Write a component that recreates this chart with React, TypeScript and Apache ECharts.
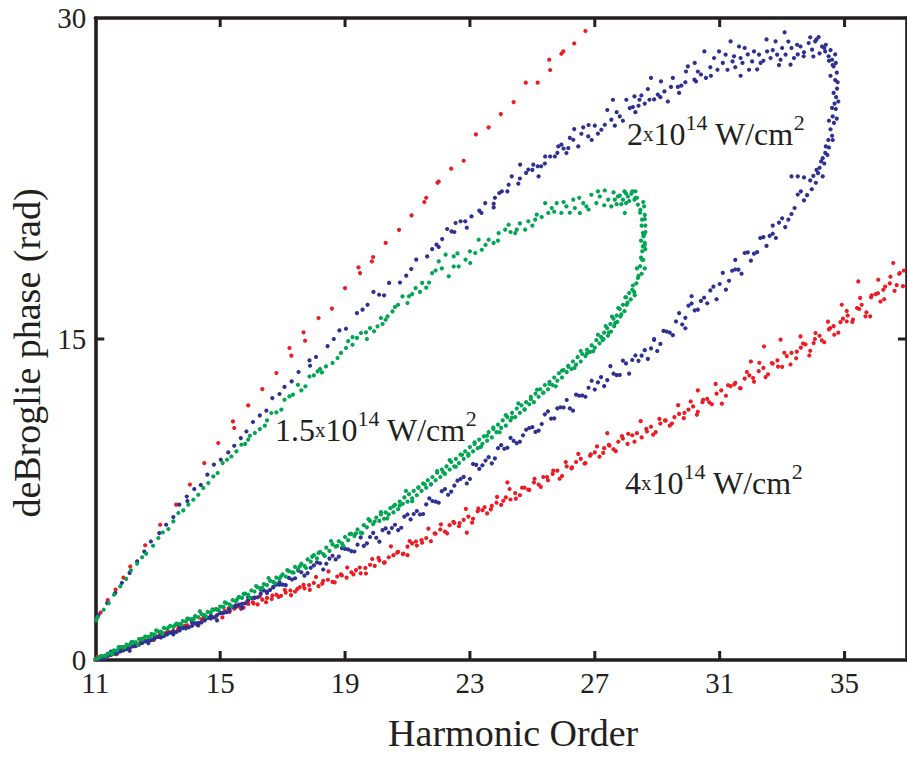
import React, { useEffect, useRef } from "react";
import * as echarts from "echarts";

const FONT = "'Liberation Serif', 'Times New Roman', Times, serif";
const INK = "#231f20";

const xTicks = [11, 15, 19, 23, 27, 31, 35];
const yTicks = [0, 15, 30];

const colors = { red: "#ed1c24", blue: "#2e3192", green: "#00a651" };

const redUpper: number[][] = [
  [11.05,1.95],[11.17,2.22],[11.4,2.8],[11.65,3.29],[11.9,3.85],[12.12,4.37],[12.6,5.36],[13.08,6.32],[13.59,7.26],[14.03,8.2],
  [14.49,9.2],[14.94,10.14],[15.41,11.15],[15.45,10.84],[15.9,11.9],[16.35,12.66],[16.8,13.41],[17.22,14.58],[17.28,14.22],[17.67,15.31],
  [17.72,14.92],[18.15,15.98],[18.58,16.42],[19.0,17.38],[19.43,18.35],[19.48,18.08],[19.86,18.63],[19.9,18.83],[20.3,19.49],[20.73,20.1],
  [21.13,20.78],[21.54,21.4],[21.6,21.6],[21.96,22.3],[22.0,22.36],[22.4,22.96],[22.8,23.33],[23.19,24.56],[23.6,24.89],[23.99,25.51],
  [24.4,26.07],[24.79,26.98],[25.17,26.98],[25.57,27.57],[25.54,28.05],[25.93,28.33],[25.99,28.44],[26.34,28.81],[26.7,29.39]
];

const redLower: number[][] = [
  [11.0,0.0],[11.1,0.05],[11.2,0.1],[11.3,0.15],[11.4,0.2],[11.5,0.25],[11.6,0.32],[11.7,0.38],[11.8,0.45],[11.9,0.55],
  [12.0,0.6],[12.15,0.62],[12.3,0.75],[12.45,0.8],[12.6,0.92],[12.75,0.95],[12.9,1.1],[13.05,1.08],[13.2,1.25],[13.35,1.3],
  [13.5,1.38],[13.65,1.45],[13.8,1.55],[13.95,1.62],[14.1,1.75],[14.25,1.7],[14.4,1.9],[14.55,1.95],[14.7,2.05],[14.85,2.0],
  [15.0,2.2],[15.15,2.3],[15.3,2.25],[15.45,2.4],[15.6,2.5],[15.75,2.45],[15.9,2.62],[16.05,2.7],[16.2,2.6],[16.35,2.82],
  [16.5,2.9],[16.65,2.85],[16.8,3.05],[16.95,3.0],[17.1,3.15],[17.25,3.25],[17.4,3.2],[17.55,3.4],[17.7,3.35],[17.85,3.5],
  [18.0,3.6],[18.15,3.45],[18.3,3.7],[18.45,3.75],[18.6,3.65],[18.75,3.9],[18.9,3.95],[19.05,3.85],[19.2,4.1],[19.35,4.2],
  [19.5,4.05],[19.65,4.3],[19.8,4.45],[19.95,4.4],[20.1,4.65],[20.25,4.55],[20.4,4.8],[20.55,4.9],[20.7,5.05],[20.85,4.95],
  [21.0,5.3],[21.15,5.45],[21.3,5.35],[21.45,5.6],[21.6,5.7],[21.75,5.55],[21.9,5.9],[22.05,6.1],[22.2,6.0],[22.35,6.3],
  [22.5,6.4],[22.65,6.25],[22.8,6.55],[22.95,6.7],[23.1,6.6],[23.25,6.95],[23.4,7.0],[23.55,6.85],[23.7,7.2],[23.85,7.35],
  [24.0,7.25],[24.15,7.6],[24.3,7.5],[24.45,7.8],[24.6,7.7],[24.75,8.05],[24.9,7.95],[25.05,8.3],[25.2,8.2],[25.35,8.55],
  [25.5,8.4],[25.65,8.7],[25.8,8.85],[25.95,8.6],[26.1,9.05],[26.25,8.95],[26.4,9.25],[26.55,9.4],[26.7,9.2],[26.85,9.55],
  [27.0,9.7],[27.15,9.5],[27.3,9.9],[27.45,10.05],[27.6,9.85],[27.75,10.2],[27.9,10.35],[28.05,10.1],[28.2,10.5],[28.35,10.6],
  [28.5,10.4],[28.65,10.8],[28.8,10.9],[28.95,10.65],[29.1,11.05],[29.25,11.2],[29.4,10.95],[29.55,11.35],[29.7,11.5],[29.85,11.3],
  [30.0,11.7],[30.15,11.85],[30.3,11.6],[30.45,12.05],[30.6,12.2],[30.75,11.95],[30.9,12.45],[31.05,12.6],[31.2,12.35],[31.35,12.8],
  [31.5,12.95],[31.65,12.7],[31.8,13.15],[31.95,13.3],[32.1,13.0],[32.25,13.5],[32.4,13.65],[32.55,13.35],[32.7,13.85],[32.85,14.0],
  [33.0,13.7],[33.15,14.2],[33.3,14.35],[33.45,14.1],[33.6,14.6],[33.75,14.75],[33.9,14.45],[34.05,15.0],[34.2,15.15],[34.35,14.85],
  [34.5,15.45],[34.65,15.6],[34.8,15.3],[34.95,15.95],[35.1,16.1],[35.25,15.8],[35.4,16.45],[35.55,16.6],[35.7,16.25],[35.85,16.95],
  [36.0,17.1],[36.15,16.75],[36.3,17.45],[36.45,17.6],[36.6,17.25],[36.75,18.05],[36.9,18.2]
];

const redLowerExtra: number[][] = [
  [11.07,0.15],[11.27,0.1],[11.47,0.3],[11.67,0.27],[11.87,0.6],[12.07,0.68],[12.27,0.65],[12.47,0.98],[12.67,0.91],[12.87,0.94],
  [13.07,1.2],[13.27,1.26],[13.47,1.3],[13.67,1.62],[13.87,1.6],[14.07,1.89],[14.27,1.64],[14.47,1.99],[14.67,1.97],[14.87,2.38],
  [15.07,1.99],[15.27,2.41],[15.47,2.45],[15.67,2.39],[15.87,2.75],[16.07,2.64],[16.27,2.98],[16.47,2.7],[16.67,3.01],[16.87,2.95],
  [17.07,3.27],[17.27,3.03],[17.47,3.32],[17.67,3.51],[17.87,3.28],[18.07,3.88],[18.27,3.57],[18.47,4.14],[18.67,3.63],[18.87,4.0],
  [19.07,4.32],[19.27,4.0],[19.47,4.32],[19.67,4.04],[19.87,4.72],[20.07,4.77],[20.27,4.56],[20.47,5.31],[20.67,5.02],[20.87,4.97],
  [21.07,5.56],[21.27,5.54],[21.47,5.48],[21.67,6.14],[21.87,5.92],[22.07,6.34],[22.27,5.92],[22.47,6.46],[22.67,6.4],[22.87,7.06],
  [23.07,6.42],[23.27,7.08],[23.47,7.14],[23.67,7.04],[23.87,7.62],[24.07,7.44],[24.27,7.99],[24.47,7.54],[24.67,8.05],[24.87,7.96],
  [25.07,8.47],[25.27,8.09],[25.47,8.55],[25.67,8.85],[25.87,8.47],[26.07,9.25],[26.27,9.0],[26.47,9.63],[26.67,9.18],[26.87,9.61],
  [27.07,9.98],[27.27,9.68],[27.47,10.02],[27.67,9.76],[27.87,10.46],[28.07,10.57],[28.27,10.2],[28.47,11.16],[28.67,10.68],[28.87,10.53],
  [29.07,11.27],[29.27,11.19],[29.47,11.05],[29.67,11.91],[29.87,11.55],[30.07,12.08],[30.27,11.46],[30.47,12.16],[30.67,12.04],[30.87,12.9],
  [31.07,11.98],[31.27,12.84],[31.47,12.88],[31.67,12.7],[31.87,13.46],[32.07,13.18],[32.27,13.89],[32.47,13.22],[32.67,13.88],[32.87,13.71],
  [33.07,14.36],[33.27,13.81],[33.47,14.41],[33.67,14.79],[33.87,14.23],[34.07,15.28],[34.27,14.94],[34.47,15.81],[34.67,15.2],[34.87,15.79],
  [35.07,16.31],[35.27,15.91],[35.47,16.4],[35.67,16.06],[35.87,17.04],[36.07,17.14],[36.27,16.86],[36.47,17.91],[36.67,17.52],[36.87,17.47],
  [35.44,17.69],[36.08,17.77],[36.56,18.55],[36.77,18.08],[36.24,17.3],[35.5,16.92],[34.91,16.6],[35.82,16.06],[35.07,15.82],[34.54,15.51],
  [34.01,14.81],[33.59,15.12],[32.95,14.97],[32.42,14.65],[32.0,13.95],[22.9,5.95],[24.2,8.3],[27.4,10.6],[30.3,12.6],[21.0,4.9]
];

const blueUpper: number[][] = [
  [11.1,2.1],[11.38,2.66],[11.64,3.13],[11.85,3.6],[12.1,4.07],[12.34,4.61],[12.57,5.07],[12.78,5.54],[13.05,5.93],[13.27,6.32],
  [13.5,6.68],[13.69,7.26],[13.93,7.64],[13.95,7.43],[14.17,7.99],[14.38,8.18],[14.59,8.66],[14.8,9.13],[15.02,9.36],[15.26,9.7],
  [15.45,10.01],[15.66,10.37],[15.84,10.68],[16.05,11.12],[16.27,11.43],[16.48,11.65],[16.67,12.24],[16.9,12.43],[17.06,12.76],[17.29,13.02],
  [17.51,13.46],[17.86,14.0],[17.88,13.75],[18.07,14.16],[18.44,14.67],[18.64,15.0],[18.82,15.4],[19.03,15.48],[19.38,16.21],[19.56,16.37],
  [19.72,16.6],[19.91,17.2],[20.09,17.07],[20.25,17.04],[20.41,17.62],[20.76,17.64],[20.96,17.96],[21.12,18.27],[21.28,18.71],[21.63,18.86],
  [21.79,19.2],[21.93,19.41],[22.11,19.67],[22.27,20.14],[22.41,20.03],[22.54,20.42],[22.7,20.5],[22.85,20.5],[23.05,20.73],[23.37,20.89],
  [23.49,21.35],[23.76,21.32],[23.76,21.15],[23.94,21.82],[24.02,21.9],[24.24,22.21],[24.34,22.6],[24.55,22.26],[24.61,23.15],[24.8,22.76],
  [24.87,22.92],[25.03,23.15],[25.17,23.07],[25.28,23.07],[25.41,23.53],[25.57,23.53],[25.72,23.53],[25.83,24.0],[25.93,24.08],[26.09,23.69],
  [26.15,23.92],[26.31,24.31],[26.47,24.0],[26.34,24.81],[26.57,24.59],[26.63,24.89],[26.79,24.47],[27.0,24.97],[27.21,24.78],[27.32,25.01],
  [27.53,25.25],[27.64,24.97],[27.8,25.4],[27.58,26.18],[28.01,26.18],[28.12,25.79],[28.22,25.84],[28.27,26.34],[28.43,26.18],[28.49,26.38],
  [28.7,26.68],[28.75,26.18],[28.8,27.2],[29.02,26.42],[29.12,27.04],[29.23,26.57],[29.34,26.1],[29.44,26.78],[29.66,26.78],[29.77,26.84],
  [29.92,27.5],[29.98,27.74],[30.19,27.12],[30.24,27.04],[30.4,27.36],[30.51,28.44],[30.56,27.2],[30.72,27.3],[30.82,28.13],[30.93,27.58],
  [30.98,28.44],[31.19,28.29],[31.25,27.58],[31.35,28.91],[31.41,27.97],[31.46,28.21],[31.62,28.67],[31.67,28.13],[31.73,27.9],[31.67,27.3],
  [31.94,27.58],[32.04,27.97],[32.1,28.44],[32.26,28.29],[32.31,27.9],[32.5,29.0],[32.52,28.44],[32.63,28.13],[32.79,28.91],[32.84,28.29],
  [32.95,28.05],[33.08,29.33],[33.11,28.29],[33.27,27.82],[33.38,28.13],[33.48,28.75],[33.59,28.67],[33.69,28.21],[33.85,28.83],[33.96,28.52],
  [34.06,28.91],[34.17,29.11],[34.28,28.67],[34.38,28.44],[34.49,28.21],[34.6,28.05],[34.65,27.74],[34.4,28.75],[34.55,28.5],[34.2,28.35]
];

const blueUpperExtra: number[][] = [
  [34.55,27.3],[34.62,27.8],[34.5,28.0],[34.35,28.6],[34.1,29.0],[33.9,29.1],[33.7,28.4],[33.3,28.6],[33.0,28.6],[32.7,28.5],
  [32.4,28.0],[32.2,27.6],[31.9,28.3],[31.5,27.7],[31.1,27.9],[30.7,27.7],[30.3,27.5],[29.9,27.0],[29.5,27.2],[29.1,26.3],
  [28.6,26.0],[28.9,26.2],[28.3,25.6],[27.9,25.2],[27.4,25.7],[27.1,24.6],[26.8,25.0],[26.2,24.4],[25.8,23.7],[25.4,23.2],
  [25.0,22.9],[24.6,22.5],[24.2,21.9],[23.8,21.6],[23.3,21.0],[22.9,20.2],[22.5,20.0],[22.0,19.3],[33.5,28.3],[32.9,27.8],
  [34.0,28.2],[33.2,28.9],[31.8,28.6],[30.2,27.9],[29.7,26.5],[28.4,25.9],[27.7,25.6],[26.9,24.3],[26.0,23.9],[25.2,22.6]
];

const blueLower: number[][] = [
  [34.7,28.3],[34.72,27.9],[34.75,27.45],[34.7,27.1],[34.76,26.7],[34.73,26.3],[34.68,26.0],[34.72,25.75],[34.62,25.4],[34.66,25.1],
  [34.55,24.8],[34.6,24.5],[34.48,24.3],[34.5,23.95],[34.38,23.7],[34.3,23.45],[34.35,23.2],[34.2,23.0],[34.15,22.75],[34.08,22.3],
  [34.0,22.62],[33.8,21.72],[33.6,21.9],[33.4,21.12],[33.2,20.58],[33.0,20.64],[32.8,19.72],[32.6,19.82],[32.4,19.76],[32.2,19.06],
  [32.0,18.66],[31.8,19.02],[31.6,18.24],[31.4,18.19],[31.2,17.31],[31.0,17.57],[30.8,17.45],[30.6,16.67],[30.4,16.78],[30.2,16.34],
  [30.0,16.56],[29.8,15.68],[29.6,15.82],[29.4,15.3],[29.2,15.38],[29.0,14.44],[28.8,14.56],[28.6,14.48],[28.4,13.98],[28.2,14.02],
  [28.0,13.86],[27.8,13.32],[27.6,13.38],[27.4,13.08],[27.2,13.22],[27.0,12.64],[26.8,12.72],[26.6,12.36],[26.4,12.4],[26.2,11.76],
  [26.0,11.8],[25.8,11.76],[25.6,11.28],[25.4,11.48],[25.2,10.72],[25.0,10.88],[24.8,10.76],[24.6,10.2],[24.4,10.24],[24.2,9.92],
  [24.0,10.04],[23.8,9.42],[23.6,9.48],[23.4,9.1],[23.2,9.12],[23.0,8.46],[22.8,8.56],[22.6,8.38],[22.4,7.87],[22.2,7.99],
  [22.0,7.35],[21.8,7.43],[21.6,7.27],[21.4,6.8],[21.2,6.82],[21.0,6.8],[20.8,6.18],[20.6,6.32],[20.4,5.95],[20.2,6.07],
  [20.0,5.71],[19.8,5.75],[19.6,5.33],[19.4,5.39],[19.2,5.09],[19.0,5.19],[18.8,4.83],[18.6,4.87],[18.4,4.5],[18.2,4.52],
  [18.0,4.42],[17.8,4.06],[17.6,4.1],[17.4,3.82],[17.2,3.84],[17.0,3.52],[16.8,3.52],[16.6,3.28],[16.4,3.25],[16.2,2.93],
  [16.0,2.89],[15.8,2.65],[15.6,2.59],[15.4,2.49],[15.2,2.23],[15.0,2.19],[14.8,1.99],[14.6,1.97],[14.4,1.75],[14.2,1.71],
  [14.0,1.53],[13.8,1.49],[13.6,1.31],[13.4,1.28],[13.2,1.12],[13.0,1.08],[12.8,0.93],[12.6,0.87],[12.4,0.72],[12.2,0.64],
  [12.0,0.5],[11.8,0.4],[11.6,0.3],[11.4,0.2],[11.2,0.1],[11.05,0.02],
  [11.1,0.05],[11.3,0.15],[11.5,0.25],[11.7,0.35],[11.9,0.45],[12.1,0.57],[12.3,0.66],[12.5,0.8],[12.7,0.9],[12.9,1.0],
  [13.1,1.1],[13.3,1.2],[13.5,1.32],[13.7,1.38],[13.9,1.52],[14.1,1.6],[14.3,1.74],[14.5,1.85],[14.7,1.94],[14.9,2.1],
  [15.1,2.2],[15.3,2.38],[15.5,2.48],[15.7,2.62],[15.9,2.8],[16.1,2.92],[16.3,3.1],[16.5,3.2],[16.7,3.42],[16.9,3.52],
  [33.3,22.6],[33.5,22.6],[33.7,22.55],[30.1,17.0],[31.5,18.7],[29.9,15.5],[28.9,15.0],[32.7,20.3]
];

const blueLowerExtra: number[][] = [
  [11.1,0.07],[11.3,0.07],[11.5,0.39],[11.7,0.31],[11.9,0.56],[12.1,0.43],[12.3,0.75],[12.5,0.81],[12.7,0.79],[12.9,1.08],
  [13.1,1.05],[13.3,1.24],[13.5,1.2],[13.7,1.53],[13.9,1.48],[14.1,1.77],[14.3,1.62],[14.5,1.89],[14.7,2.06],[14.9,1.85],
  [15.1,2.47],[15.3,2.29],[15.5,2.55],[15.7,2.44],[15.9,2.93],[16.1,2.9],[16.3,3.29],[16.5,3.13],[16.7,3.39],[16.9,3.63],
  [17.1,3.5],[17.3,3.76],[17.5,4.18],[17.7,3.94],[17.9,4.31],[18.1,4.56],[18.3,4.23],[18.5,4.74],[18.7,4.7],[18.9,5.23],
  [19.1,5.17],[19.3,5.07],[19.5,5.73],[19.7,5.45],[19.9,5.94],[20.1,5.53],[20.3,6.15],[20.5,6.17],[20.7,6.07],[20.9,6.7],
  [21.1,6.57],[21.3,6.96],[21.5,6.82],[21.7,7.55],[21.9,7.4],[22.1,7.89],[22.3,7.72],[22.5,8.15],[22.7,8.46],[22.9,8.25],
  [23.1,9.16],[23.3,8.93],[23.5,9.32],[23.7,9.19],[23.9,9.9],[24.1,9.87],[24.3,10.38],[24.5,10.13],[24.7,10.5],[24.9,10.84],
  [25.1,10.66],[25.3,11.03],[25.5,11.62],[25.7,11.29],[25.9,11.81],[26.1,12.15],[26.3,11.65],[26.5,12.35],[26.7,12.3],[26.9,13.05],
  [27.1,12.97],[27.3,12.8],[27.5,13.73],[27.7,13.31],[27.9,13.99],[28.1,13.38],[28.3,14.23],[28.5,14.22],[28.7,14.07],[28.9,14.96],
  [29.1,14.77],[29.3,15.35],[29.5,15.18],[29.7,16.21],[29.9,15.99],[30.1,16.66],[30.3,16.37],[30.5,16.93],[30.7,17.27],[30.9,16.86],
  [31.1,18.09],[31.3,17.72],[31.5,18.25],[31.7,18.05],[31.9,19.05],[32.1,18.99],[32.3,19.72],[32.5,19.35],[32.7,19.92],[32.9,20.44],
  [33.1,20.23],[33.3,20.84],[33.5,21.75],[33.7,21.48],[33.9,22.41],
  [34.78,27.0],[34.65,26.5],[34.8,26.1],[34.6,25.8],[34.75,25.3],[34.5,25.2],[34.62,24.3],[34.4,24.0],[34.45,23.6],[34.25,23.3],
  [34.1,22.9],[34.3,22.6],[33.95,22.0]
];

const greenUpper: number[][] = [
  [11.03,1.85],[11.08,2.01],[11.27,2.35],[11.43,2.66],[11.6,3.05],[11.8,3.44],[11.99,3.79],[12.14,4.19],[12.34,4.5],[12.5,4.8],
  [12.63,4.97],[12.85,5.34],[13.02,5.7],[13.16,5.96],[13.34,6.12],[13.5,6.48],[13.66,6.87],[13.82,6.99],[13.98,7.26],[14.14,7.49],
  [14.3,7.72],[14.46,8.04],[14.62,8.27],[14.78,8.58],[14.92,8.74],[15.08,9.2],[15.22,9.36],[15.36,9.51],[15.52,9.75],[15.68,10.06],
  [15.8,10.1],[15.95,10.48],[16.11,10.61],[16.27,10.79],[16.43,10.95],[16.64,11.54],[16.8,11.57],[16.96,11.7],[17.06,12.16],[17.22,12.32],
  [17.33,12.4],[17.49,12.86],[17.73,12.79],[17.86,13.25],[18.0,13.3],[18.12,13.49],[18.26,13.44],[18.39,13.72],[18.6,13.88],[18.76,14.11],
  [18.87,14.35],[19.03,14.58],[19.24,14.73],[19.24,15.09],[19.38,15.05],[19.51,15.28],[19.67,15.31],[19.8,15.51],[19.93,15.36],[20.04,15.59],
  [20.15,15.98],[20.3,15.9],[20.36,16.06],[20.52,16.29],[20.7,16.6],[20.84,16.99],[21.0,16.68],[21.15,17.1],[21.26,17.38],[21.47,17.62],
  [21.6,17.4],[21.69,17.64],[21.79,18.08],[22.0,18.63],[22.22,18.94],[22.32,17.93],[22.48,18.86],[22.48,18.39],[22.64,18.39],[22.86,18.71],
  [23.01,18.55],[23.17,19.02],[23.38,19.17],[23.28,19.64],[23.6,19.64],[23.76,19.49],[23.92,19.95],[24.13,20.11],[24.24,20.34],[24.45,19.95],
  [24.5,20.11],[24.77,20.11],[24.87,20.5],[25.09,20.58],[25.14,20.81],[25.41,21.35],[25.51,20.89],[25.62,21.12],[25.78,21.35],[25.93,20.89],
  [26.09,21.2],[26.31,21.51],[26.36,21.12],[26.52,20.89],[26.63,21.35],[26.73,21.2],[26.89,21.74],[27.05,21.35],[27.16,21.66],[27.32,21.94],
  [27.43,21.51],[27.53,21.2],[27.64,21.51],[27.74,21.66],[27.9,21.51],[27.96,20.89],[28.06,21.66],[28.17,21.79],[28.27,21.51],[28.38,21.28],
  [28.46,21.04],[28.51,20.58],[28.54,19.95],[28.54,19.33],[28.51,18.71],[28.0,21.8],[28.3,21.6],[27.85,21.3],[28.58,21.2],[28.6,20.8],
  [28.62,20.3],[28.58,19.9],[28.6,19.5]
];

const greenUpperExtra: number[][] = [
  [22.1,18.3],[22.6,19.0],[23.0,19.1],[23.5,19.4],[23.9,19.6],[24.3,20.0],[24.6,20.4],[25.0,20.3],[25.3,20.7],[25.7,20.95],
  [26.0,21.4],[26.2,20.9],[26.5,21.6],[26.8,21.05],[27.1,21.9],[27.3,21.25],[27.6,21.85],[27.7,21.3],[28.0,21.35],[28.3,21.9],
  [19.1,14.9],[19.7,15.0],[20.2,15.7],[20.6,16.5],[21.05,17.0],[21.4,17.2],[21.9,18.2],[17.6,12.6],[18.2,13.6],[16.5,11.2],
  [15.9,10.3]
];

const greenLower: number[][] = [
  [28.56,19.8],[28.6,19.4],[28.52,19.1],[28.55,18.7],[28.45,18.4],[28.5,18.05],[28.38,17.85],[28.33,17.6],[28.22,17.5],[28.26,17.2],
  [28.1,17.15],[28.15,16.85],[28.0,16.95],[28.02,16.6],[27.9,16.6],[27.95,16.3],[27.8,16.4],[27.82,16.05],[27.7,16.1],[27.72,15.8],
  [27.6,15.95],[27.62,15.6],[27.5,15.7],[27.52,15.35],[27.4,15.5],[27.42,15.15],[27.3,15.3],[27.28,15.0],[27.2,15.1],[27.15,14.8],
  [27.05,14.95],[27.0,14.6],[26.9,14.7],[26.85,14.4],[26.75,14.5],[26.7,14.2],[26.6,14.3],[26.55,13.95],[26.45,14.15],[26.4,13.8],
  [26.3,13.95],[26.25,13.6],[26.15,13.75],[26.1,13.45],[26.0,13.55],[25.95,13.2],[25.85,13.4],[25.8,13.05],[25.7,13.2],[25.65,12.85],
  [25.55,13.0],[25.5,12.65],[25.4,12.85],[25.35,12.5],[25.25,12.65],[25.2,12.3],[25.1,12.45],[25.05,12.05],[24.95,12.3],[24.9,11.95],
  [24.8,12.05],[24.75,11.7],[24.65,11.9],[24.6,11.55],[24.5,11.75],[24.45,11.35],[24.35,11.55],[24.3,11.2],[24.2,11.35],[24.15,10.95],
  [24.05,11.2],[24.0,10.85],[23.9,11.0],[23.85,10.65],[23.75,10.8],[23.7,10.4],[23.6,10.65],[23.55,10.25],[23.45,10.45],[23.4,10.1],
  [23.3,10.3],[23.25,9.9],[23.15,10.1],[23.1,9.75],[23.0,9.95],[22.95,9.55],[22.85,9.75],[22.8,9.4],[22.7,9.6],[22.65,9.2],
  [22.55,9.4],[22.5,9.05],[22.4,9.25],[22.35,8.9],[22.25,9.05],[22.2,8.7],[22.1,8.9],[22.05,8.55],[21.95,8.75],[21.9,8.4],
  [21.8,8.55],[21.75,8.2],[21.65,8.4],[21.6,8.05],[21.5,8.25],[21.45,7.9],[21.35,8.05],[21.3,7.7],[21.2,7.9],[21.15,7.55],
  [21.05,7.75],[21.0,7.4],[20.9,7.6],[20.85,7.3],[20.75,7.4],[20.7,7.05],[20.6,7.25],[20.55,6.9],[20.45,7.1],[20.4,6.8],
  [20.3,6.9],[20.25,6.6],[20.15,6.8],[20.1,6.5],[20.0,6.65],[19.9,6.35],[19.8,6.5],[19.7,6.2],[19.6,6.3],[19.5,5.95],
  [19.4,6.1],[19.3,5.8],[19.2,5.9],[19.1,5.6],[19.0,5.75],[18.9,5.45],[18.8,5.55],[18.7,5.3],[18.6,5.4],[18.5,5.1],
  [18.4,5.25],[18.3,4.95],[18.2,5.05],[18.1,4.75],[18.0,4.9],[17.9,4.6],[17.8,4.7],[17.7,4.4],[17.6,4.5],[17.5,4.25],
  [17.4,4.35],[17.3,4.1],[17.2,4.15],[17.1,3.9],[17.0,4.0],[16.9,3.8],[16.8,3.85],[16.7,3.65],[16.6,3.7],[16.5,3.5],
  [16.4,3.55],[16.3,3.35],[16.2,3.4],[16.1,3.2],[16.0,3.25],[15.9,3.05],[15.8,3.1],[15.7,2.9],[15.6,2.95],[15.5,2.75],
  [15.4,2.8],[15.3,2.6],[15.2,2.65],[15.1,2.48],[15.0,2.5],[14.9,2.35],[14.8,2.35],[14.7,2.22],[14.6,2.25],[14.5,2.1],
  [14.4,2.15],[14.3,2.0],[14.2,2.05],[14.1,1.9],[14.0,1.92],[13.9,1.8],[13.8,1.82],[13.7,1.68],[13.6,1.7],[13.5,1.55],
  [13.4,1.6],[13.3,1.45],[13.2,1.5],[13.1,1.33],[13.0,1.35],[12.9,1.2],[12.8,1.22],[12.7,1.08],[12.6,1.1],[12.5,0.95],
  [12.4,0.98],[12.3,0.83],[12.2,0.85],[12.1,0.7],[12.0,0.72],[11.9,0.58],[11.8,0.6],[11.7,0.45],[11.6,0.45],[11.5,0.32],
  [11.4,0.3],[11.3,0.2],[11.2,0.18],[11.1,0.08],[11.0,0.03]
];

const greenLowerExtra: number[][] = [
  [11.15,0.16],[11.35,0.21],[11.55,0.27],[11.75,0.6],[11.95,0.6],[12.15,0.83],[12.35,0.74],[12.55,1.01],[12.75,1.07],[12.95,1.39],
  [13.15,1.22],[13.35,1.53],[13.55,1.62],[13.75,1.65],[13.95,1.94],[14.15,1.91],[14.35,2.28],[14.55,2.02],[14.75,2.36],[14.95,2.33],
  [15.15,2.69],[15.35,2.51],[15.55,2.85],[15.75,3.09],[15.95,2.91],[16.15,3.46],[16.35,3.37],[16.55,3.83],[16.75,3.59],[16.95,3.91],
  [17.15,4.2],[17.35,4.08],[17.55,4.38],[17.75,4.3],[17.95,4.83],[18.15,5.0],[18.35,4.86],[18.55,5.56],[18.75,5.33],[18.95,5.32],
  [19.15,5.88],[19.35,5.92],[19.55,5.93],[19.75,6.58],[19.95,6.47],[20.15,6.91],[20.35,6.62],[20.55,7.18],[20.75,7.22],[20.95,7.9],
  [21.15,7.42],[21.35,8.07],[21.55,8.21],[21.75,8.22],[21.95,8.83],[22.15,8.77],[22.35,9.34],[22.55,9.03],[22.75,9.59],[22.95,9.62],
  [23.15,10.17],[23.35,9.96],[23.55,10.48],[23.75,10.86],[23.95,10.64],[24.15,11.44],[24.35,11.33],[24.55,11.99],[24.75,11.71],[24.95,12.19],
  [25.15,12.63],[25.35,12.48],[25.55,12.9],[25.75,12.79],[25.95,13.52],[26.15,13.71],[26.35,13.65],[26.55,14.44],[26.75,14.33],[26.95,14.43],
  [27.1,15.2],[27.25,14.95],[27.35,15.6],[27.45,15.3],[27.55,16.05],[27.65,15.75],[27.75,16.45],[27.85,16.15],[27.98,16.95],[28.05,16.7],
  [28.2,17.3],[28.28,17.05],[28.4,17.95],[28.35,18.3],[28.48,18.8],[28.6,18.3],[28.62,19.2],[28.48,19.6],[28.62,20.0],[28.5,20.3],
  [28.6,20.6],[28.45,20.9],[28.55,21.4],[28.35,21.6],[28.2,21.9],[28.1,21.45],[27.95,21.9],[27.8,21.7]
];

const annotations = [
  { lead: "2", x: 627, y: 133.5 },
  { lead: "1.5", x: 275, y: 429.7 },
  { lead: "4", x: 625, y: 482.5 },
];

export default function App() {
  const ref = useRef<HTMLDivElement>(null);

  useEffect(() => {
    if (!ref.current) return;
    const chart = echarts.init(ref.current, null, { renderer: "svg" });

    const axisLineStyle = { color: INK, width: 3.6 };

    const baseX = {
      type: "value",
      min: 11,
      max: 37,
      interval: 4,
      splitLine: { show: false },
      axisLine: { show: true, onZero: false, lineStyle: axisLineStyle },
      axisTick: { show: false },
    };
    const baseY = {
      type: "value",
      min: 0,
      max: 30,
      interval: 15,
      splitLine: { show: false },
      axisLine: { show: true, onZero: false, lineStyle: axisLineStyle },
      axisTick: { show: false },
    };

    const rich = {
      n: { fontSize: 32, fontFamily: FONT, fill: INK, color: INK },
      s: { fontSize: 21, fontFamily: FONT, fill: INK, color: INK },
      p: { fontSize: 22, fontFamily: FONT, fill: INK, color: INK, padding: [0, 0, 22, 0] },
    };

    const mk = (name: string, color: string, data: number[][]) => ({
      type: "scatter",
      name,
      data,
      symbol: "circle",
      symbolSize: 4.2,
      itemStyle: { color, opacity: 1 },
      emphasis: { disabled: true },
      clip: true,
    });

    const annotationGraphics = annotations.map((a) => ({
      type: "text",
      x: a.x,
      y: a.y,
      silent: true,
      z: 100,
      style: {
        text: `{n|${a.lead}}{s|x}{n|10}{p|14}{n| W/cm}{p|2}`,
        rich,
        align: "left",
        verticalAlign: "middle",
        fill: INK,
        fontFamily: FONT,
        fontSize: 32,
      },
    }));

    chart.setOption({
      animation: false,
      backgroundColor: "#ffffff",
      grid: { left: 95.3, top: 18, width: 815.2, height: 643.3, containLabel: false },
      xAxis: [
        {
          ...baseX,
          position: "bottom",
          name: "Harmonic Order",
          nameLocation: "middle",
          nameGap: 54,
          nameTextStyle: { fontFamily: FONT, fontSize: 38, color: INK, padding: [0, 0, 0, 24] },
          axisLabel: {
            show: true,
            fontFamily: FONT,
            fontSize: 29,
            color: INK,
            margin: 13,
            lineHeight: 20,
            customValues: xTicks,
          },
        },
        {
          ...baseX,
          position: "top",
          axisLabel: { show: false },
        },
      ],
      yAxis: [
        {
          ...baseY,
          position: "left",
          name: "deBroglie phase (rad)",
          nameLocation: "middle",
          nameGap: 44,
          nameTextStyle: { fontFamily: FONT, fontSize: 38, color: INK, padding: [0, 28, 0, 0] },
          axisLabel: {
            show: true,
            fontFamily: FONT,
            fontSize: 29,
            color: INK,
            margin: 9,
            lineHeight: 20,
            customValues: yTicks,
          },
        },
        {
          ...baseY,
          position: "right",
          axisLabel: { show: false },
        },
      ],
      series: [
        mk("4x10^14 W/cm^2", colors.red, [...redUpper, ...redLower, ...redLowerExtra]),
        mk("2x10^14 W/cm^2", colors.blue, [...blueUpper, ...blueUpperExtra, ...blueLower, ...blueLowerExtra]),
        mk("1.5x10^14 W/cm^2", colors.green, [...greenUpper, ...greenUpperExtra, ...greenLower, ...greenLowerExtra]),
      ],
      graphic: annotationGraphics,
    });

    // inward tick marks on all four sides, positioned through the axes' own scales
    const px = (v: number) => chart.convertToPixel({ xAxisIndex: 0 }, v) as number;
    const py = (v: number) => chart.convertToPixel({ yAxisIndex: 0 }, v) as number;
    const yB = py(0);
    const yT = py(30);
    const xL = px(11);
    const xR = px(37);
    const TL = 9;
    const tickStyle = { stroke: INK, lineWidth: 3 };
    const tickGraphics: any[] = [];
    xTicks.slice(1).forEach((v) => {
      const x = px(v);
      tickGraphics.push({ type: "line", silent: true, z: 50, shape: { x1: x, y1: yB, x2: x, y2: yB - TL }, style: tickStyle });
      tickGraphics.push({ type: "line", silent: true, z: 50, shape: { x1: x, y1: yT, x2: x, y2: yT + TL }, style: tickStyle });
    });
    yTicks.slice(1, -1).forEach((v) => {
      const y = py(v);
      tickGraphics.push({ type: "line", silent: true, z: 50, shape: { x1: xL, y1: y, x2: xL + TL, y2: y }, style: tickStyle });
      tickGraphics.push({ type: "line", silent: true, z: 50, shape: { x1: xR, y1: y, x2: xR - TL, y2: y }, style: tickStyle });
    });

    chart.setOption({ graphic: [...annotationGraphics, ...tickGraphics] }, { replaceMerge: ["graphic"] });

    return () => chart.dispose();
  }, []);

  return (
    <div
      ref={ref}
      style={{ position: "absolute", left: 0, top: 0, width: 907, height: 757, background: "#fff" }}
    />
  );
}
